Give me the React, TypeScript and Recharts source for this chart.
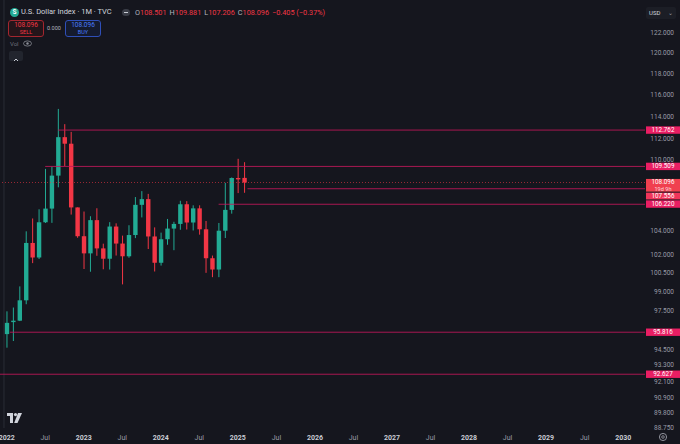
import { ComposedChart, Bar, XAxis, YAxis, ReferenceLine } from 'recharts';

const W = 680;
const H = 444;

// monthly DXY candles, Jan 2022 .. Feb 2025
const opens = [
  95.67, 96.6, 96.71, 98.31, 102.96, 101.76, 104.69, 105.85, 108.7, 112.12, 111.53, 105.95,
  103.52, 102.1, 104.87, 102.51, 101.66, 104.33, 102.91, 101.86, 103.62, 106.17, 106.66, 103.5,
  101.33, 103.27, 104.16, 104.55, 106.22, 104.67, 105.87, 104.1, 101.7, 100.78, 103.98, 105.74,
  108.49, 108.501,
];
const highs = [
  97.44, 97.74, 99.42, 103.93, 105.01, 105.79, 109.29, 109.48, 114.7, 113.3, 112.6, 105.95,
  105.6, 105.2, 105.88, 102.9, 104.7, 104.6, 103.57, 104.44, 106.84, 107.35, 107.11, 104.26,
  103.82, 104.97, 104.73, 106.52, 106.49, 106.13, 106.13, 104.8, 101.92, 104.63, 108.07, 108.54,
  110.18, 109.881,
];
const lows = [
  94.63, 95.14, 96.68, 98.0, 101.3, 101.64, 104.63, 104.64, 107.68, 109.54, 105.34, 103.39,
  100.82, 100.6, 101.9, 100.8, 100.78, 101.92, 99.58, 101.74, 103.36, 105.1, 102.46, 100.62,
  101.1, 102.81, 102.36, 104.06, 104.08, 104.0, 103.65, 100.51, 100.16, 100.16, 103.37, 105.42,
  107.18, 107.206,
];
const closes = [
  96.54, 96.71, 98.31, 102.96, 101.76, 104.69, 105.85, 108.7, 112.12, 111.53, 105.95, 103.52,
  102.1, 104.87, 102.51, 101.66, 104.33, 102.91, 101.86, 103.62, 106.17, 106.66, 103.5, 101.33,
  103.27, 104.16, 104.55, 106.22, 104.67, 105.87, 104.1, 101.7, 100.78, 103.98, 105.74, 108.49,
  108.37, 108.096,
];

// horizontal levels drawn on the chart (value, first month index)
const levelValues = [112.762, 109.509, 107.556, 106.22, 95.816, 92.627];
const levelStarts = [8, 6, 37.5, 33, 0.5, -1.04];

const lastPrice = 108.096;
const countdown = '19d 9h';

const priceTicks = [122, 120, 118, 116, 114, 112, 110, 104, 102, 100.5, 99, 97.5, 94.5, 93.3, 92.1, 90.9, 89.8, 88.75];
const timeTicks = [0, 6, 12, 18, 24, 30, 36, 42, 48, 54, 60, 66, 72, 78, 84, 90, 96];
const timeLabels = ['2022', 'Jul', '2023', 'Jul', '2024', 'Jul', '2025', 'Jul', '2026', 'Jul', '2027', 'Jul', '2028', 'Jul', '2029', 'Jul', '2030'];

const X_DOMAIN: [number, number] = [-1.04, 99.4];
const Y_DOMAIN: [number, number] = [88.7, 125.22];

const BG = '#15161e';
const UP = '#22ab94';
const DOWN = '#f23645';
const LEVEL = '#c2185b';
const FONT = 'Roboto, "Noto Sans", sans-serif';

const data = opens.map((o, i) => ({
  i,
  o,
  h: highs[i],
  l: lows[i],
  c: closes[i],
  range: [lows[i], highs[i]],
}));

// eslint-disable-next-line @typescript-eslint/no-explicit-any
function Candle(props: any) {
  const { x, y, width, height, payload } = props;
  if (x == null || y == null) return null;
  const top = Math.min(y, y + height);
  const bot = Math.max(y, y + height);
  const { o, h, l, c } = payload;
  // y scale is logarithmic: interpolate open/close between high and low pixels
  const py = (v: number) => top + (bot - top) * (Math.log(h) - Math.log(v)) / (Math.log(h) - Math.log(l));
  const cx = x + width / 2;
  const color = c >= o ? UP : DOWN;
  const yo = py(o);
  const yc = py(c);
  const bTop = Math.min(yo, yc);
  const bH = Math.max(1, Math.abs(yo - yc));
  return (
    <g>
      <line x1={cx} x2={cx} y1={top} y2={bot} stroke={color} strokeWidth={1} />
      <rect x={cx - 2.2} y={bTop} width={4.4} height={bH} fill={color} />
    </g>
  );
}

// eslint-disable-next-line @typescript-eslint/no-explicit-any
function PriceTick({ y, payload }: any) {
  // the 110 label sits just above the 109.509 tag, lift it a little
  const lift = payload.value === 110 ? -1.5 : 0;
  return (
    <text x={674} y={y + 2.2 + lift} textAnchor="end" fontSize={6.5} fill="#9a9ca6" fontFamily={FONT}>
      {payload.value.toFixed(3)}
    </text>
  );
}

// eslint-disable-next-line @typescript-eslint/no-explicit-any
function TimeTick({ x, index }: any) {
  const label = timeLabels[index] ?? '';
  const isYear = label !== 'Jul';
  return (
    <text
      x={x}
      y={439.5}
      textAnchor="middle"
      fontSize={7}
      fontWeight={isYear ? 700 : 400}
      fill={isYear ? '#c9ccd4' : '#9a9ca6'}
      fontFamily={FONT}
    >
      {label}
    </text>
  );
}

// eslint-disable-next-line @typescript-eslint/no-explicit-any
function Tag({ viewBox, lines, fill, dy = -3.7, h = 7.4 }: any) {
  if (!viewBox) return null;
  const top = viewBox.y + dy;
  return (
    <g>
      <rect x={646} y={top} width={34} height={h} fill={fill} />
      {lines.map((t: string, k: number) => (
        <text
          key={k}
          x={663}
          y={top + 5.5 + k * 6.1}
          textAnchor="middle"
          fontSize={k === 0 ? 6.3 : 5.6}
          fill={k === 0 ? '#ffffff' : '#ffd9dd'}
          fontFamily={FONT}
        >
          {t}
        </text>
      ))}
    </g>
  );
}

const tagStyle: Record<number, { fill: string; dy: number; h: number }> = {
  2: { fill: '#f0345a', dy: 3.9, h: 6.8 },
  3: { fill: '#e91e63', dy: -3.9, h: 7.4 },
};

function Header() {
  const val = { color: DOWN };
  const key = { color: '#b2b5be', marginLeft: 3 };
  return (
    <>
      <div style={{ position: 'absolute', left: 10, top: 8, width: 9, height: 9, borderRadius: 5, background: UP, color: '#fff', fontSize: 6.5, fontWeight: 700, textAlign: 'center', lineHeight: '9px', fontFamily: FONT }}>S</div>
      <div style={{ position: 'absolute', left: 21, top: 7, fontSize: 7.5, color: '#d1d4dc', fontFamily: FONT, whiteSpace: 'nowrap' }}>
        U.S. Dollar Index · 1M · TVC
      </div>
      <div style={{ position: 'absolute', left: 122, top: 9, width: 8, height: 7, borderRadius: 4, background: '#3a3d47' }}>
        <div style={{ position: 'absolute', left: 2, top: 3, width: 4, height: 1, background: '#c9ccd4' }} />
      </div>
      <div style={{ position: 'absolute', left: 135, top: 8, fontSize: 7.3, fontFamily: FONT, whiteSpace: 'nowrap' }}>
        <span style={{ color: '#b2b5be' }}>O</span><span style={val}>108.501</span>
        <span style={key}>H</span><span style={val}>109.881</span>
        <span style={key}>L</span><span style={val}>107.206</span>
        <span style={key}>C</span><span style={val}>108.096</span>
        <span style={{ ...val, marginLeft: 3 }}>−0.405 (−0.37%)</span>
      </div>
      <div style={{ position: 'absolute', left: 8, top: 20, width: 34, height: 15, border: '1px solid #a3262f', borderRadius: 3, background: '#24151a', textAlign: 'center', fontFamily: FONT, color: DOWN }}>
        <div style={{ fontSize: 6.5, lineHeight: '8px', marginTop: 0 }}>108.096</div>
        <div style={{ fontSize: 5.5, lineHeight: '6px' }}>SELL</div>
      </div>
      <div style={{ position: 'absolute', left: 47, top: 25, fontSize: 5.5, color: '#b2b5be', fontFamily: FONT }}>0.000</div>
      <div style={{ position: 'absolute', left: 65, top: 20, width: 34, height: 15, border: '1px solid #2f4fb8', borderRadius: 3, background: '#151b2e', textAlign: 'center', fontFamily: FONT, color: '#4a7dff' }}>
        <div style={{ fontSize: 6.5, lineHeight: '8px' }}>108.096</div>
        <div style={{ fontSize: 5.5, lineHeight: '6px' }}>BUY</div>
      </div>
      <div style={{ position: 'absolute', left: 10, top: 40, fontSize: 6, color: '#6f727c', fontFamily: FONT }}>Vol</div>
      <svg style={{ position: 'absolute', left: 23, top: 40 }} width={9} height={7}>
        <ellipse cx={4.5} cy={3.5} rx={4} ry={2.6} fill="none" stroke="#8a8d96" strokeWidth={0.8} />
        <circle cx={4.5} cy={3.5} r={1.2} fill="#8a8d96" />
      </svg>
      <div style={{ position: 'absolute', left: 9, top: 51, width: 14, height: 10, borderRadius: 2, background: '#22252e' }}>
        <svg width={14} height={10}>
          <polyline points="5,6 7,4 9,6" fill="none" stroke="#c9ccd4" strokeWidth={1} />
        </svg>
      </div>
      <div style={{ position: 'absolute', left: 646, top: 7, width: 30, height: 12, borderRadius: 2, background: '#1c1e26', fontSize: 6, color: '#d1d4dc', fontFamily: FONT, lineHeight: '12px', paddingLeft: 3, boxSizing: 'border-box' }}>
        USD<span style={{ position: 'absolute', right: 3, color: '#9a9ca6' }}>⌄</span>
      </div>
      <svg style={{ position: 'absolute', left: 7, top: 413 }} width={15} height={11}>
        <rect x={0} y={0} width={6} height={3} fill="#d1d4dc" />
        <rect x={3} y={0} width={3} height={10} fill="#d1d4dc" />
        <circle cx={8.5} cy={1.6} r={1.6} fill="#d1d4dc" />
        <polygon points="11,0 15,0 10.5,10 7.2,10" fill="#d1d4dc" />
      </svg>
      <svg style={{ position: 'absolute', left: 658, top: 432 }} width={10} height={10}>
        <circle cx={5} cy={5} r={3.6} fill="none" stroke="#9a9ca6" strokeWidth={0.9} />
        <circle cx={5} cy={5} r={1.3} fill="none" stroke="#9a9ca6" strokeWidth={0.8} />
      </svg>
    </>
  );
}

export default function App() {
  return (
    <div style={{ position: 'fixed', left: 0, top: 0, width: W, height: H, background: BG, overflow: 'hidden' }}>
      <ComposedChart width={W} height={H} data={data} margin={{ top: 0, right: 0, left: 0, bottom: 0 }}>
        <XAxis
          type="number"
          dataKey="i"
          domain={X_DOMAIN}
          allowDataOverflow
          ticks={timeTicks}
          interval={0}
          tick={<TimeTick />}
          axisLine={false}
          tickLine={false}
          height={16}
        />
        <YAxis
          orientation="right"
          scale="log"
          domain={Y_DOMAIN}
          allowDataOverflow
          ticks={priceTicks}
          interval={0}
          tick={<PriceTick />}
          axisLine={false}
          tickLine={false}
          width={35}
        />
        <ReferenceLine x={-0.42} stroke="#2a2d36" strokeWidth={1} />
        {levelValues.map((v, k) => (
          <ReferenceLine
            key={v}
            segment={[{ x: levelStarts[k], y: v }, { x: X_DOMAIN[1], y: v }]}
            stroke={LEVEL}
            strokeWidth={1}
            strokeOpacity={0.85}
            ifOverflow="extendDomain"
            label={(p: any) => (
              <Tag
                {...p}
                lines={[v.toFixed(3)]}
                fill={tagStyle[k]?.fill ?? '#e91e63'}
                dy={tagStyle[k]?.dy ?? -3.7}
                h={tagStyle[k]?.h ?? 7.4}
              />
            )}
          />
        ))}
        <ReferenceLine
          y={lastPrice}
          stroke={DOWN}
          strokeOpacity={0.6}
          strokeDasharray="1 2"
          label={(p: any) => <Tag {...p} lines={[lastPrice.toFixed(3), countdown]} fill="#f0404f" dy={-3.6} h={12.7} />}
        />
        <Bar dataKey="range" barSize={5} shape={<Candle />} isAnimationActive={false} />
      </ComposedChart>
      <Header />
    </div>
  );
}
